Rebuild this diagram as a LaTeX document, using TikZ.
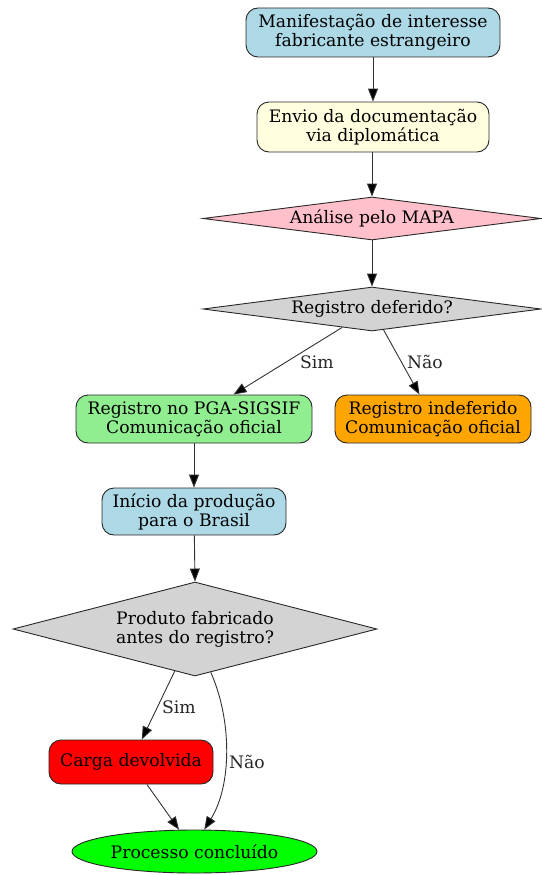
\documentclass[tikz,border=0pt]{standalone}
\usepackage{fontspec}
\setmainfont{DejaVu Serif}
\usetikzlibrary{shapes.geometric,arrows.meta}
\definecolor{clightblue}{RGB}{173,216,230}
\definecolor{clightyellow}{RGB}{255,255,224}
\definecolor{cpink}{RGB}{255,192,203}
\definecolor{clightgray}{RGB}{211,211,211}
\definecolor{clightgreen}{RGB}{144,238,144}
\definecolor{corange}{RGB}{255,165,0}
\definecolor{cred}{RGB}{255,0,0}
\definecolor{cgreen}{RGB}{0,255,0}
\definecolor{cborder}{RGB}{40,40,40}
\definecolor{cedge}{RGB}{50,50,50}
\begin{document}
\begin{tikzpicture}[x=1pt,y=-1pt,
  font=\fontsize{17.2}{19}\selectfont,
  box/.style={draw=cborder,line width=0.9pt,rounded corners=12pt,align=center,inner sep=0pt},
  dia/.style={draw=cborder,line width=0.9pt,diamond,align=center,inner sep=0pt},
  edge/.style={draw=cedge,line width=0.9pt,-{Triangle[length=13pt,width=10pt,fill=black]}},
  lbl/.style={inner sep=0pt,text=black!85}]
\useasboundingbox (0,0) rectangle (541,875);
\node[box,fill=clightblue,minimum width=254pt,minimum height=49pt] (n1) at (373,32.5) {Manifestação de interesse\\fabricante estrangeiro};
\node[box,fill=clightyellow,minimum width=232pt,minimum height=50pt] (n2) at (373,127) {Envio da documentação\\via diplomática};
\node[dia,fill=cpink,minimum width=338pt,minimum height=43pt,aspect=7.86] (n3) at (372,218.5) {Análise pelo MAPA};
\node[dia,fill=clightgray,minimum width=338pt,minimum height=44pt,aspect=7.7] (n4) at (372,309) {Registro deferido?};
\node[box,fill=clightgreen,minimum width=236pt,minimum height=48pt] (n5) at (194,419) {Registro no PGA-SIGSIF\\Comunicação oficial};
\node[box,fill=corange,minimum width=196pt,minimum height=48pt] (n6) at (433,419) {Registro indeferido\\Comunicação oficial};
\node[box,fill=clightblue,minimum width=184pt,minimum height=47pt] (n7) at (194,511.5) {Início da produção\\para o Brasil};
\node[dia,fill=clightgray,minimum width=364pt,minimum height=94pt,aspect=3.87] (n8) at (195,629) {Produto fabricado\\antes do registro?};
\node[box,fill=cred,minimum width=164pt,minimum height=44pt] (n9) at (131,762) {Carga devolvida};
\node[draw=cborder,line width=0.9pt,ellipse,fill=cgreen,minimum width=245pt,minimum height=43pt,inner sep=0pt] (n10) at (194.5,851.5) {Processo concluído};
\draw[edge] (n1.south -| n2.north) -- (n2.north);
\draw[edge] (n2.south -| n3.north) -- (n3.north);
\draw[edge] (n3) -- (n4.north);
\draw[edge] (n4) -- (n5);
\node[lbl] (s1) at (317,362) {Sim};
\draw[edge] (n4) -- (n6);
\node[lbl] (s2) at (425,362) {Não};
\draw[edge] (n5) -- (n7);
\draw[edge] (n7) -- (n8.north);
\draw[edge] (n8) -- (n9);
\node[lbl] (s3) at (179,707) {Sim};
\draw[edge] (n8.-70) .. controls (232,720) and (232,785) .. (n10.66);
\node[lbl] (s4) at (247,762) {Não};
\draw[edge] (n9) -- (n10);
\end{tikzpicture}
\end{document}
